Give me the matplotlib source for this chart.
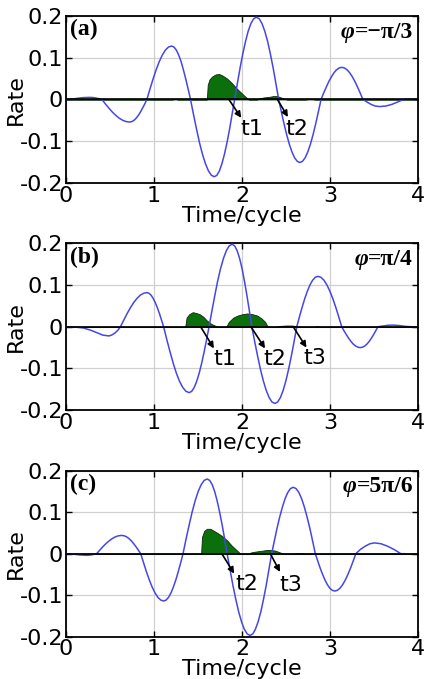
import matplotlib.pyplot as plt

plt.rcParams['font.family'] = 'DejaVu Sans'
plt.rcParams['axes.unicode_minus'] = False

# field curves, time in cycles
t_a = [0.0, 0.07, 0.14, 0.20, 0.27, 0.31, 0.34, 0.375, 0.41,
       0.449, 0.489, 0.528, 0.568, 0.607, 0.646, 0.686, 0.725,
       0.749, 0.774, 0.798, 0.823, 0.847, 0.871, 0.896, 0.92,
       0.955, 0.99, 1.025, 1.06, 1.095, 1.13, 1.165, 1.20,
       1.227, 1.254, 1.281, 1.308, 1.334, 1.361, 1.388, 1.415,
       1.449, 1.483, 1.516, 1.55, 1.584, 1.618, 1.651, 1.685,
       1.714, 1.743, 1.771, 1.80, 1.829, 1.858, 1.886, 1.915,
       1.946, 1.977, 2.008, 2.039, 2.069, 2.10, 2.131, 2.162,
       2.194, 2.225, 2.257, 2.289, 2.32, 2.352, 2.383, 2.415,
       2.445, 2.475, 2.505, 2.535, 2.565, 2.595, 2.625, 2.655,
       2.685, 2.715, 2.745, 2.775, 2.805, 2.835, 2.865, 2.895,
       2.924, 2.954, 2.983, 3.013, 3.042, 3.071, 3.101, 3.13,
       3.16, 3.19, 3.22, 3.25, 3.28, 3.31, 3.34, 3.37,
       3.42, 3.465, 3.51, 3.56, 3.63, 3.695, 3.76, 3.83, 3.90, 3.95]
e_a = [0.0, 0.001, 0.003, 0.0045, 0.005, 0.0046, 0.0035, 0.002, 0.0,
       -0.0105, -0.0207, -0.030, -0.0382, -0.0449, -0.0499, -0.053, -0.054,
       -0.053, -0.0499, -0.0449, -0.0382, -0.030, -0.0207, -0.0105, 0.0,
       0.025, 0.049, 0.0712, 0.0905, 0.1064, 0.1183, 0.1256, 0.128,
       0.1256, 0.1183, 0.1064, 0.0905, 0.0712, 0.049, 0.025, 0.0,
       -0.0361, -0.0709, -0.1029, -0.1308, -0.1537, -0.1709, -0.1815, -0.185,
       -0.1815, -0.1709, -0.1537, -0.1308, -0.1029, -0.0709, -0.0361, 0.0,
       0.0384, 0.0755, 0.1095, 0.1393, 0.1637, 0.182, 0.1933, 0.197,
       0.1933, 0.182, 0.1637, 0.1393, 0.1095, 0.0755, 0.0384, 0.0,
       -0.0294, -0.0578, -0.084, -0.1068, -0.1255, -0.1395, -0.1481, -0.151,
       -0.1481, -0.1395, -0.1255, -0.1068, -0.084, -0.0578, -0.0294, 0.0,
       0.015, 0.0295, 0.0428, 0.0544, 0.064, 0.0711, 0.0755, 0.077,
       0.0755, 0.0711, 0.064, 0.0544, 0.0428, 0.0295, 0.015, 0.0,
       -0.0065, -0.012, -0.0157, -0.017, -0.0157, -0.012, -0.0065, 0.0, 0.001, 0.0]

t_b = [0.0, 0.10, 0.20, 0.28, 0.35, 0.42, 0.49, 0.52, 0.555, 0.59, 0.62,
       0.658, 0.695, 0.733, 0.77, 0.808, 0.845, 0.883, 0.92,
       0.944, 0.968, 0.991, 1.015, 1.039, 1.063, 1.086, 1.11,
       1.146, 1.183, 1.219, 1.255, 1.291, 1.328, 1.364, 1.40,
       1.428, 1.456, 1.484, 1.513, 1.541, 1.569, 1.597, 1.625,
       1.658, 1.691, 1.723, 1.756, 1.789, 1.822, 1.854, 1.887,
       1.915, 1.943, 1.971, 1.999, 2.026, 2.054, 2.082, 2.11,
       2.143, 2.176, 2.208, 2.241, 2.274, 2.307, 2.339, 2.372,
       2.403, 2.434, 2.465, 2.496, 2.527, 2.558, 2.589, 2.62,
       2.65, 2.68, 2.71, 2.74, 2.77, 2.80, 2.83, 2.86,
       2.894, 2.928, 2.961, 2.995, 3.029, 3.063, 3.096, 3.13,
       3.156, 3.183, 3.209, 3.235, 3.261, 3.288, 3.314, 3.34,
       3.365, 3.39, 3.415, 3.44, 3.465, 3.49, 3.515, 3.54,
       3.60, 3.65, 3.71, 3.78, 3.85, 3.92, 4.0]
e_b = [0.0, -0.0005, -0.003, -0.008, -0.014, -0.020, -0.022, -0.020, -0.0155, -0.0085, 0.0,
       0.016, 0.0314, 0.0456, 0.058, 0.0681, 0.0758, 0.0804, 0.082,
       0.0804, 0.0758, 0.0681, 0.058, 0.0456, 0.0314, 0.016, 0.0,
       -0.0308, -0.0605, -0.0878, -0.1117, -0.1313, -0.146, -0.155, -0.158,
       -0.155, -0.146, -0.1313, -0.1117, -0.0878, -0.0605, -0.0308, 0.0,
       0.0386, 0.0758, 0.1101, 0.140, 0.1645, 0.183, 0.1942, 0.198,
       0.1942, 0.183, 0.1645, 0.140, 0.1101, 0.0758, 0.0386, 0.0,
       -0.0359, -0.0705, -0.1023, -0.1301, -0.1529, -0.170, -0.1805, -0.184,
       -0.1805, -0.170, -0.1529, -0.1301, -0.1023, -0.0705, -0.0359, 0.0,
       0.0236, 0.0463, 0.0673, 0.0855, 0.1006, 0.1118, 0.1187, 0.121,
       0.1187, 0.1118, 0.1006, 0.0855, 0.0673, 0.0463, 0.0236, 0.0,
       -0.0098, -0.0192, -0.0278, -0.0354, -0.0416, -0.0462, -0.0491, -0.050,
       -0.0491, -0.0462, -0.0416, -0.0354, -0.0278, -0.0192, -0.0098, 0.0,
       0.002, 0.0035, 0.004, 0.003, 0.001, 0.0, 0.0]

t_c = [0.0, 0.08, 0.16, 0.236, 0.29, 0.35,
       0.386, 0.421, 0.457, 0.493, 0.528, 0.564, 0.599, 0.635,
       0.662, 0.689, 0.716, 0.743, 0.769, 0.796, 0.823, 0.85,
       0.883, 0.915, 0.948, 0.98, 1.013, 1.045, 1.078, 1.11,
       1.138, 1.165, 1.193, 1.22, 1.248, 1.275, 1.303, 1.33,
       1.364, 1.399, 1.433, 1.467, 1.501, 1.536, 1.57, 1.604,
       1.632, 1.661, 1.689, 1.717, 1.745, 1.774, 1.802, 1.83,
       1.863, 1.895, 1.928, 1.96, 1.993, 2.025, 2.058, 2.09,
       2.121, 2.151, 2.182, 2.213, 2.243, 2.274, 2.304, 2.335,
       2.366, 2.396, 2.427, 2.458, 2.488, 2.519, 2.549, 2.58,
       2.611, 2.643, 2.674, 2.705, 2.736, 2.768, 2.799, 2.83,
       2.858, 2.885, 2.913, 2.94, 2.968, 2.995, 3.023, 3.05,
       3.08, 3.11, 3.14, 3.17, 3.20, 3.23, 3.26, 3.29,
       3.34, 3.395, 3.45, 3.50, 3.575, 3.65, 3.725, 3.80, 3.84]
e_c = [0.0, -0.001, -0.003, -0.004, -0.003, 0.0,
       0.0086, 0.0169, 0.0245, 0.0311, 0.0366, 0.0407, 0.0432, 0.044,
       0.0432, 0.0407, 0.0366, 0.0311, 0.0245, 0.0169, 0.0086, 0.0,
       -0.0222, -0.0437, -0.0634, -0.0806, -0.0947, -0.1053, -0.1118, -0.114,
       -0.1118, -0.1053, -0.0947, -0.0806, -0.0634, -0.0437, -0.0222, 0.0,
       0.0351, 0.0689, 0.1001, 0.1273, 0.1496, 0.1663, 0.1766, 0.180,
       0.1766, 0.1663, 0.1496, 0.1273, 0.1001, 0.0689, 0.0351, 0.0,
       -0.0384, -0.0755, -0.1095, -0.1393, -0.1637, -0.182, -0.1933, -0.197,
       -0.1933, -0.182, -0.1637, -0.1393, -0.1095, -0.0755, -0.0384, 0.0,
       0.0312, 0.0613, 0.089, 0.1131, 0.133, 0.1478, 0.157, 0.160,
       0.157, 0.1478, 0.133, 0.1131, 0.089, 0.0613, 0.0312, 0.0,
       -0.0176, -0.0345, -0.050, -0.0636, -0.0748, -0.0832, -0.0883, -0.090,
       -0.0883, -0.0832, -0.0748, -0.0636, -0.050, -0.0345, -0.0176, 0.0,
       0.010, 0.018, 0.024, 0.026, 0.024, 0.018, 0.010, 0.0, 0.0]

# ionization rates
rt_a = [0.0, 1.21, 1.23, 1.25, 1.27, 1.60, 1.61, 1.63, 1.66, 1.70, 1.74, 1.78, 1.83, 1.88, 1.94,
        2.00, 2.04, 2.075, 2.17, 2.20, 2.25, 2.30, 2.35, 2.40, 2.45, 2.51, 2.72, 2.75, 2.80, 2.83, 4.0]
rv_a = [0.0, 0.0, 0.0015, 0.0015, 0.0, 0.0, 0.035, 0.048, 0.055, 0.060, 0.061, 0.057, 0.050, 0.040, 0.026,
        0.014, 0.006, 0.0, 0.0, 0.003, 0.005, 0.006, 0.008, 0.008, 0.004, 0.0, 0.0, 0.001, 0.001, 0.0, 0.0]

rt_b = [0.0, 1.355, 1.37, 1.40, 1.44, 1.48, 1.52, 1.56, 1.60, 1.65, 1.69, 1.72,
        1.82, 1.85, 1.90, 1.95, 2.00, 2.06, 2.12, 2.17, 2.22, 2.26, 2.29,
        2.39, 2.42, 2.50, 2.57, 2.62, 2.65, 2.82, 2.84, 2.86, 2.88, 4.0]
rv_b = [0.0, 0.0, 0.022, 0.030, 0.035, 0.033, 0.030, 0.024, 0.015, 0.007, 0.003, 0.0,
        0.0, 0.012, 0.022, 0.027, 0.030, 0.032, 0.030, 0.027, 0.020, 0.012, 0.0,
        0.0, 0.002, 0.003, 0.003, 0.001, 0.0, 0.0, 0.001, 0.001, 0.0, 0.0]

rt_c = [0.0, 1.535, 1.545, 1.57, 1.60, 1.64, 1.68, 1.72, 1.77, 1.83, 1.88, 1.93, 1.98,
        2.07, 2.10, 2.15, 2.22, 2.28, 2.33, 2.38, 2.43, 2.47, 2.58, 2.62, 2.68, 2.72, 4.0]
rv_c = [0.0, 0.0, 0.040, 0.055, 0.060, 0.060, 0.055, 0.050, 0.043, 0.032, 0.020, 0.010, 0.0,
        0.0, 0.003, 0.005, 0.007, 0.009, 0.009, 0.007, 0.003, 0.0, 0.0, 0.001, 0.001, 0.0, 0.0]

tags = ['(a)', '(b)', '(c)']
phases = ['=\u2212\u03c0/3', '=\u03c0/4', '=5\u03c0/6']

# (label, arrow start x, arrow end x, arrow end y, label x, label y)
marks_a = [('t1', 1.85, 1.99, -0.044, 2.11, -0.070), ('t2', 2.40, 2.52, -0.042, 2.62, -0.070)]
marks_b = [('t1', 1.53, 1.68, -0.052, 1.80, -0.078), ('t2', 2.10, 2.26, -0.052, 2.37, -0.078),
           ('t3', 2.58, 2.73, -0.050, 2.83, -0.076)]
marks_c = [('t2', 1.77, 1.91, -0.048, 2.05, -0.074), ('t3', 2.32, 2.43, -0.044, 2.55, -0.076)]

xticks = [0, 1, 2, 3, 4]
yticks = [-0.2, -0.1, 0, 0.1, 0.2]
ytick_labels = ['-0.2', '-0.1', '0', '0.1', '0.2']

panels = [(t_a, e_a, rt_a, rv_a, marks_a), (t_b, e_b, rt_b, rv_b, marks_b), (t_c, e_c, rt_c, rv_c, marks_c)]
boxes = [[0.154, 0.7305, 0.826, 0.246], [0.154, 0.396, 0.826, 0.2455], [0.154, 0.0623, 0.826, 0.2445]]

fig = plt.figure(figsize=(4.27, 6.79), dpi=100)

for i, (t, e, rt, rv, marks) in enumerate(panels):
    ax = fig.add_axes(boxes[i])
    ax.grid(True, color='#d0d0d0', lw=0.9)
    ax.set_axisbelow(True)
    ax.fill_between(rt, 0, rv, facecolor='#0b700b', edgecolor='#0a2a0a', lw=0.6, zorder=2)
    ax.plot(t, e, color='#4646e8', lw=1.1, zorder=3)
    ax.axhline(0, color='k', lw=1.2, zorder=4)

    for name, x0, x1, y1, lx, ly in marks:
        ax.annotate('', xy=(x1, y1), xytext=(x0, 0),
                    arrowprops=dict(arrowstyle='-|>', color='k', lw=1.2, mutation_scale=9,
                                    shrinkA=0, shrinkB=0), zorder=5)
        ax.text(lx, ly, name, fontsize=16, ha='center', va='center', zorder=5)

    ax.text(0.012, 0.98, tags[i], transform=ax.transAxes, ha='left', va='top',
            fontsize=17, fontweight='bold', family='Liberation Serif')
    ph = ax.text(0.985, 0.965, phases[i], transform=ax.transAxes, ha='right', va='top',
                 fontsize=17, fontweight='bold', family='Liberation Serif')
    ax.annotate('\u03c6', xy=(0, 0), xycoords=ph, ha='right', va='bottom',
                fontsize=17, fontweight='bold', fontstyle='italic', family='Liberation Serif')

    ax.set_xlim(0, 4)
    ax.set_ylim(-0.2, 0.2)
    ax.set_xticks(xticks)
    ax.set_yticks(yticks)
    ax.set_yticklabels(ytick_labels)
    ax.tick_params(direction='in', top=True, right=True, length=4, width=1,
                   labelsize=16, pad=2)
    for s in ax.spines.values():
        s.set_linewidth(1.3)
    ax.set_xlabel('Time/cycle', fontsize=16, labelpad=0)
    ax.set_ylabel('Rate', fontsize=16)
    ax.yaxis.set_label_coords(-0.112, 0.5)

fig.savefig('out.png', dpi=100)
